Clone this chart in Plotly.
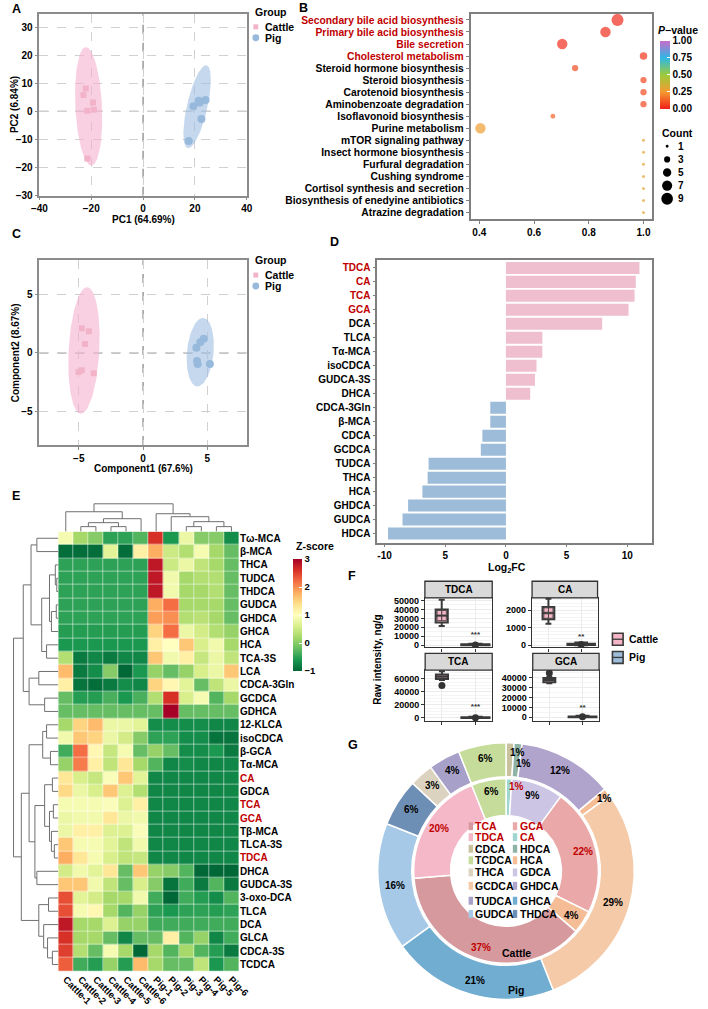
import numpy as np
import plotly.graph_objects as go

W, H = 708, 1009
FONT = "Liberation Sans, Arial, sans-serif"
LRED = "#c00000"

# ----------------------------------------------------------------- data
# A  PCA scores
pca_cattle_pc1 = [-23.0, -22.1, -19.3, -21.5, -19.0, -21.5]
pca_cattle_pc2 = [5.9, 8.2, 3.2, 0.2, 0.6, -16.9]
pca_pig_pc1 = [19.4, 21.4, 21.9, 24.1, 22.5, 17.6]
pca_pig_pc2 = [1.8, 3.8, 3.2, 4.1, -2.7, -10.6]
# confidence ellipses: centre x, centre y, semi-axis 1 (dx, dy), semi-axis 2 (dx, dy)
pca_ellipse_cattle = [-21.0, 1.8, -1.1, 21.2, 5.13, 0.24]
pca_ellipse_pig = [20.85, 1.65, 3.65, 14.85, 3.84, -0.84]

# B  KEGG enrichment
pathways = ["Secondary bile acid biosynthesis", "Primary bile acid biosynthesis", "Bile secretion",
            "Cholesterol metabolism", "Steroid hormone biosynthesis", "Steroid biosynthesis",
            "Carotenoid biosynthesis", "Aminobenzoate degradation", "Isoflavonoid biosynthesis",
            "Purine metabolism", "mTOR signaling pathway", "Insect hormone biosynthesis",
            "Furfural degradation", "Cushing syndrome", "Cortisol synthesis and secretion",
            "Biosynthesis of enedyine antibiotics", "Atrazine degradation"]
pathway_ratio = [0.905, 0.861, 0.703, 1.0, 0.75, 1.0, 1.0, 1.0, 0.669, 0.404, 1.0, 1.0, 1.0, 1.0, 1.0, 1.0, 1.0]
pathway_count = [9, 7, 7, 4, 3, 3, 3, 3, 2, 7, 1, 1, 1, 1, 1, 1, 1]
pathway_p = [0.02, 0.03, 0.03, 0.05, 0.09, 0.08, 0.08, 0.08, 0.14, 0.27, 0.30, 0.30, 0.30, 0.30, 0.30, 0.30, 0.30]
pathway_red = [True, True, True, True] + [False] * 13
count_legend = [1, 3, 5, 7, 9]

# C  PLS-DA scores
pls_cattle_c1 = [-4.77, -4.22, -4.52, -4.77, -5.02, -3.84]
pls_cattle_c2 = [2.1, 1.83, 0.76, -1.5, -1.64, -1.75]
pls_pig_c1 = [4.15, 4.45, 4.72, 4.2, 4.25, 5.2]
pls_pig_c2 = [0.42, 0.9, 1.19, -0.7, -0.95, -0.95]
pls_ellipse_cattle = [-4.6, 0.2, 0.26, 5.4, 1.19, -0.07]
pls_ellipse_pig = [4.45, 0.05, 0.25, 2.92, 1.03, -0.11]

# D  log2 fold change
fc_acids = ["TDCA", "CA", "TCA", "GCA", "DCA", "TLCA", "Tα-MCA", "isoCDCA", "GUDCA-3S", "DHCA",
            "CDCA-3Gln", "β-MCA", "CDCA", "GCDCA", "TUDCA", "THCA", "HCA", "GHDCA", "GUDCA", "HDCA"]
fc_values = [11.0, 10.7, 10.6, 10.1, 7.93, 3.0, 3.0, 2.52, 2.39, 2.0,
             -1.29, -1.29, -1.94, -2.07, -6.37, -6.45, -6.88, -8.06, -8.52, -9.71]
fc_red = {"TDCA", "CA", "TCA", "GCA"}

# E  heatmap (z-score)
hm_samples = ["Cattle-1", "Cattle-2", "Cattle-3", "Cattle-4", "Cattle-5", "Cattle-6",
              "Pig-1", "Pig-2", "Pig-3", "Pig-4", "Pig-5", "Pig-6"]
hm_acids = ["Tω-MCA", "β-MCA", "THCA", "TUDCA", "THDCA", "GUDCA", "GHDCA", "GHCA", "HCA", "TCA-3S",
            "LCA", "CDCA-3Gln", "GCDCA", "GDHCA", "12-KLCA", "isoCDCA", "β-GCA", "Tα-MCA", "CA", "GDCA",
            "TCA", "GCA", "Tβ-MCA", "TLCA-3S", "TDCA", "DHCA", "GUDCA-3S", "3-oxo-DCA", "TLCA", "DCA",
            "GLCA", "CDCA-3S", "TCDCA"]
hm_red = {"CA", "TCA", "GCA", "TDCA"}
hm_z = [
    [0.9, 0.2, 0.0, -0.5, -0.5, -0.3, 2.6, -0.6, 0.8, 0.0, 0.0, -0.7],
    [-0.95, -0.95, -0.95, 0.7, -0.95, 1.2, 1.8, 0.5, 0.3, 0.9, 0.2, -0.2],
    [-0.5, -0.5, -0.5, -0.5, -0.5, -0.5, 2.8, 0.5, 0.8, 0.4, 0.2, -0.2],
    [-0.5, -0.5, -0.5, -0.5, -0.5, -0.5, 2.8, 0.85, 0.2, 0.3, 0.3, -0.2],
    [-0.5, -0.5, -0.5, -0.5, -0.5, -0.5, 2.8, 0.85, 0.2, 0.2, 0.3, -0.2],
    [-0.5, -0.5, -0.5, -0.5, -0.5, -0.5, 1.8, 2.2, 0.2, 0.2, 0.2, -0.2],
    [-0.5, -0.5, -0.5, -0.5, -0.5, -0.5, 1.9, 2.0, 0.3, 0.35, 0.2, -0.2],
    [-0.55, -0.55, -0.55, -0.55, -0.55, -0.55, 1.5, 2.2, 0.8, 0.55, 0.3, 0.1],
    [-0.6, -0.6, -0.6, -0.6, -0.6, -0.6, 1.2, 1.0, 1.6, 0.6, 0.85, 0.2],
    [0.3, -0.85, -0.75, -0.85, -0.75, -0.75, 1.6, 0.85, 1.2, 0.45, 0.8, 0.4],
    [1.7, -0.85, -0.7, 0.0, -1.0, -0.6, 0.1, -0.2, 0.1, 0.6, 0.8, 1.6],
    [1.2, -0.9, -0.95, -0.85, -0.7, -0.75, 1.5, 1.1, 0.7, -0.2, 0.4, 0.8],
    [-0.2, -0.55, -0.55, -0.35, -0.6, -0.35, 0.3, 2.6, 0.6, 0.9, -0.3, 0.2],
    [-0.2, -0.2, -0.2, -0.2, -0.2, -0.2, -0.2, 3.0, -0.2, -0.2, -0.2, -0.2],
    [0.2, 1.5, 1.7, 0.8, 0.8, 0.7, -0.7, -0.7, -0.7, -0.7, -0.75, -0.75],
    [0.85, 1.6, 1.5, 0.8, 0.55, 0.0, -0.5, -0.5, -0.7, -0.7, -0.9, -0.9],
    [-0.4, 2.2, 1.1, 0.45, 0.9, -0.2, 0.1, -0.2, -0.7, -0.7, -0.6, -0.85],
    [0.1, 2.1, 1.2, 0.4, 1.3, 0.2, -0.3, -0.75, -0.7, -0.75, -0.75, -0.75],
    [1.3, 0.6, 0.45, 0.95, 1.6, 0.7, -0.75, -0.75, -0.75, -0.75, -0.75, -0.75],
    [1.45, 0.8, 0.6, 1.6, 0.65, 0.3, -0.75, -0.75, -0.75, -0.75, -0.75, -0.75],
    [0.9, 0.9, 0.9, 0.95, 0.65, 1.2, -0.75, -0.75, -0.75, -0.75, -0.75, -0.75],
    [0.8, 0.85, 0.85, 1.3, 0.8, 0.85, -0.75, -0.75, -0.75, -0.75, -0.75, -0.75],
    [0.8, 1.2, 1.2, 0.65, 0.65, 0.95, -0.75, -0.75, -0.75, -0.75, -0.75, -0.75],
    [1.6, 0.9, 0.9, 0.7, 0.4, 0.85, -0.75, -0.75, -0.75, -0.75, -0.75, -0.75],
    [1.8, 1.3, 0.9, 0.6, 0.4, 0.45, -0.75, -0.75, -0.75, -0.75, -0.75, -0.75],
    [0.55, 0.85, 0.7, 1.3, -0.2, 1.6, 0.1, 0.0, -0.3, -1.0, -1.0, -1.0],
    [1.6, 1.6, 0.85, 0.4, -0.2, 0.6, 0.0, -0.9, -0.4, -0.85, -0.3, -0.85],
    [2.4, 0.7, 0.55, 0.2, 0.2, 0.85, -0.4, -1.0, -0.4, -0.55, -0.7, -0.3],
    [2.4, 0.9, 1.1, 0.2, -0.3, 0.1, -0.5, -0.6, -0.5, -0.5, -0.55, -0.5],
    [2.8, 0.2, 0.2, 0.65, 0.1, 0.1, -0.4, -0.4, -0.4, -0.4, -0.4, -0.4],
    [2.6, 0.2, 0.2, -0.2, -0.75, -0.2, -0.2, 1.2, -0.3, 0.1, -0.75, -0.4],
    [2.5, 0.3, -0.2, 0.9, 0.2, -1.0, 0.2, -0.3, 0.2, -0.3, -0.55, -0.85],
    [2.3, -0.4, -0.55, 0.1, -0.55, 1.7, 0.2, -0.2, -0.2, 0.4, -0.6, -0.3],
]
# dendrograms as nested [merge height, left, right]; leaves are row/column indices
hm_row_tree = [46,
               [36,
                [28, [22, 0, 1], [17, [9, [3, 2, [1.5, 3, 4]], [7, [2, 5, 6], 7]], [12, 8, 9]]],
                [30, [20, 10, 11], [14, 12, 13]]],
               [38,
                [30, [16, [12, 14, 15], [8, 16, 17]],
                 [24, [14, [6, 18, 19], [9, [5, 20, 21], [7, 22, [4, 23, 24]]]], [22, 25, 26]]],
                [20, [10, 27, 28], [15, 29, [11, 30, [6, 31, 32]]]]]]
hm_col_tree = [28, [20, 0, [13, [9, [5, 1, 2], [5, 3, 4]], 5]],
               [18, 6, [15, 7, [10, [5, 8, 9], [5, 10, 11]]]]]

# F  raw intensity box plots
f_acids = ["TDCA", "CA", "TCA", "GCA"]
f_cattle_q1 = [25500, 1470, 60000, 35500]
f_cattle_med = [32700, 1830, 63500, 38000]
f_cattle_q3 = [40000, 2170, 66700, 40000]
f_cattle_lo = [21500, 1225, 58500, 34500]
f_cattle_hi = [51000, 2650, 71800, 41000]
f_pig_q1 = [0, 10, 0, 100]
f_pig_med = [300, 40, 300, 500]
f_pig_q3 = [900, 80, 1000, 900]
f_pig_lo = [0, 0, 0, 0]
f_pig_hi = [1500, 150, 2000, 1500]
f_cattle_points = [[36300, 36300, 30000, 30000], [2000, 2000, 1660, 1660], [], []]
f_cattle_outliers = [[], [], [49900], [45000]]
f_sig = ["***", "**", "***", "**"]
f_sig_y = [11700, 490, 16800, 9300]
f_yticks = [[0, 10000, 20000, 30000, 40000, 50000], [0, 1000, 2000],
            [0, 20000, 40000, 60000], [0, 10000, 20000, 30000, 40000]]
f_yrange = [[-2600, 53000], [-130, 2695], [-4600, 73700], [-3700, 48000]]

# G  composition donuts (percent)
cattle_acids = ["CA", "GDCA", "GCA", "HCA", "TCA", "TDCA", "TCDCA"]
cattle_pct = [1, 9, 22, 4, 37, 20, 6]
pig_acids = ["CDCA", "HDCA", "GHDCA", "HCA", "GCDCA", "GHCA", "GUDCA", "THDCA", "THCA", "TUDCA", "TCDCA"]
pig_pct = [1, 1, 12, 1, 29, 21, 16, 6, 3, 4, 6]
g_legend_col1 = ["TCA", "TDCA", "CDCA", "TCDCA", "THCA", "GCDCA", "TUDCA", "GUDCA"]
g_legend_col2 = ["GCA", "CA", "HDCA", "HCA", "GDCA", "GHDCA", "GHCA", "THDCA"]
g_red = {"TCA", "TDCA", "GCA", "CA"}
acid_colors = {"TCA": "#d69a9e", "GCA": "#eaa9a8", "TDCA": "#f5b8c9", "CA": "#9fd6cf",
               "CDCA": "#c9c29e", "HDCA": "#8fb3a7", "TCDCA": "#c6dc9b", "HCA": "#f4bd96",
               "THCA": "#dbd2c0", "GDCA": "#cdc5e4", "GCDCA": "#f4caa8", "GHDCA": "#b0a4cc",
               "TUDCA": "#a7a1c9", "GHCA": "#71add0", "GUDCA": "#a5c9e6", "THDCA": "#6e8fb5"}

# ----------------------------------------------------------------- helpers
def fx(p): return p / W
def fy(p): return 1 - p / H
def xdom(a, b): return [a / W, b / W]
def ydom(t, b): return [1 - b / H, 1 - t / H]
def tf(size=10, color="black"): return dict(family=FONT, size=size, color=color, weight="bold")
def red(s): return f"<span style='color:{LRED}'>{s}</span>"

def note(x, y, text, size=10, xanchor="center", angle=0, color="black"):
    return dict(x=fx(x), y=fy(y), xref="paper", yref="paper", text=text, showarrow=False,
                xanchor=xanchor, yanchor="middle", textangle=angle, font=tf(size, color))

def ellipse(p, n=120):
    cx, cy, ax, ay, bx, by = p
    t = np.linspace(0, 2 * np.pi, n)
    return cx + ax * np.cos(t) + bx * np.sin(t), cy + ay * np.cos(t) + by * np.sin(t)

def dendro(node, xs, ys):
    if isinstance(node, int):
        return float(node), 0.0
    h, l, r = node
    pl, hl = dendro(l, xs, ys)
    pr, hr = dendro(r, xs, ys)
    xs += [pl, pl, pr, pr, None]
    ys += [hl, h, h, hr, None]
    return (pl + pr) / 2, h

fig = go.Figure()
ann, shapes = [], []
lay = {}

def axes(n, xcfg, ycfg):
    xs = "" if n == 1 else str(n)
    lay["xaxis" + xs] = dict(xcfg, anchor="y" + xs)
    lay["yaxis" + xs] = dict(ycfg, anchor="x" + xs)

PINK_PT, PINK_EL = "#f2b3c9", "rgba(245,176,205,0.6)"
BLUE_PT, BLUE_EL = "#97b9dc", "rgba(160,190,225,0.6)"

def scatter_axes(n, xd, yd, xr, yr, xt, yt):
    base = dict(showline=True, mirror=True, linecolor="#8c8c8c", linewidth=1.5, ticks="outside",
                tickcolor="#8c8c8c", ticklen=3, showgrid=True, gridcolor="#d0d0d0", griddash="dash",
                zeroline=False, tickfont=tf(10))
    axes(n, dict(base, domain=xd, range=xr, tickvals=xt), dict(base, domain=yd, range=yr, tickvals=yt))

# ----------------------------------------------------------------- A
for el, col in [(pca_ellipse_cattle, PINK_EL), (pca_ellipse_pig, BLUE_EL)]:
    ex, ey = ellipse(el)
    fig.add_trace(go.Scatter(x=ex, y=ey, mode="lines", fill="toself", fillcolor=col,
                             line=dict(width=0), xaxis="x", yaxis="y"))
fig.add_trace(go.Scatter(x=pca_cattle_pc1, y=pca_cattle_pc2, mode="markers", xaxis="x", yaxis="y",
                         marker=dict(symbol="square", size=6, color=PINK_PT)))
fig.add_trace(go.Scatter(x=pca_pig_pc1, y=pca_pig_pc2, mode="markers", xaxis="x", yaxis="y",
                         marker=dict(symbol="circle", size=8, color=BLUE_PT)))
scatter_axes(1, xdom(32.3, 245.7), ydom(12, 195), [-40, 40], [-30.2, 34.9],
             [-40, -20, 0, 20, 40], [-30, -20, -10, 0, 10, 20, 30])

# ----------------------------------------------------------------- C
for el, col in [(pls_ellipse_cattle, PINK_EL), (pls_ellipse_pig, BLUE_EL)]:
    ex, ey = ellipse(el)
    fig.add_trace(go.Scatter(x=ex, y=ey, mode="lines", fill="toself", fillcolor=col,
                             line=dict(width=0), xaxis="x3", yaxis="y3"))
fig.add_trace(go.Scatter(x=pls_cattle_c1, y=pls_cattle_c2, mode="markers", xaxis="x3", yaxis="y3",
                         marker=dict(symbol="square", size=6, color=PINK_PT)))
fig.add_trace(go.Scatter(x=pls_pig_c1, y=pls_pig_c2, mode="markers", xaxis="x3", yaxis="y3",
                         marker=dict(symbol="circle", size=8, color=BLUE_PT)))
scatter_axes(3, xdom(32.3, 245.7), ydom(260, 446), [-8.07, 8.07], [-7.86, 7.9], [-5, 0, 5], [-5, 0, 5])

for xa, ya in [("x", "y"), ("x3", "y3")]:
    shapes.append(dict(type="line", xref=xa, yref=ya + " domain", x0=0, x1=0, y0=0, y1=1,
                       line=dict(color="#8a8a8a", width=1.3, dash="dash"), layer="below"))
    shapes.append(dict(type="line", xref=xa + " domain", yref=ya, x0=0, x1=1, y0=0, y1=0,
                       line=dict(color="#8a8a8a", width=1.3, dash="dash"), layer="below"))

# group legends for A and C
for gy in [10, 260]:
    ann.append(note(252, gy, "Group", 10.5, "left"))
    ann.append(note(262, gy + 15, "Cattle", 10.5, "left"))
    ann.append(note(262, gy + 26, "Pig", 10.5, "left"))
    shapes.append(dict(type="rect", xref="paper", yref="paper", x0=fx(252.5), x1=fx(257.5),
                       y0=fy(gy + 17.5), y1=fy(gy + 12.5), fillcolor=PINK_PT, line=dict(width=0)))
    shapes.append(dict(type="circle", xref="paper", yref="paper", x0=fx(251.5), x1=fx(258.5),
                       y0=fy(gy + 29.5), y1=fy(gy + 22.5), fillcolor=BLUE_PT, line=dict(width=0)))

ann.append(note(139, 219, "PC1 (64.69%)"))
ann.append(note(6, 103, "PC2 (6.84%)", angle=-90))
ann.append(note(139, 470, "Component1 (67.6%)"))
ann.append(note(8, 353, "Component2 (8.67%)", angle=-90))

# ----------------------------------------------------------------- B
def count_size(c):
    return 3 + 4.5 * (np.sqrt(c) - 1)

pscale = [[0, "#f0201a"], [0.25, "#f59a30"], [0.5, "#9ccb3c"], [0.75, "#2fb7e3"], [1, "#c86ccc"]]
fig.add_trace(go.Scatter(
    x=pathway_ratio, y=list(range(len(pathways))), mode="markers", xaxis="x2", yaxis="y2",
    marker=dict(size=[count_size(c) for c in pathway_count], color=pathway_p, colorscale=pscale,
                cmin=0, cmax=1, line=dict(width=0), showscale=True,
                colorbar=dict(x=fx(670.5), xanchor="left", y=fy(39), yanchor="top", len=68,
                              lenmode="pixels", thickness=10, thicknessmode="pixels",
                              tickvals=[0, 0.25, 0.5, 0.75, 1],
                              ticktext=["0.00", "0.25", "0.50", "0.75", "1.00"],
                              ticks="inside", ticklen=3, tickcolor="white", outlinewidth=0,
                              xpad=0, ypad=0, tickfont=tf(10)))))
axes(2,
     dict(domain=xdom(476, 663), range=[0.368, 1.032], tickvals=[0.4, 0.6, 0.8, 1.0],
          ticktext=["0.4", "0.6", "0.8", "1.0"], showline=True, mirror=True,
          linecolor="#7f7f7f", linewidth=1.5, ticks="outside", ticklen=3,
          tickcolor="#7f7f7f", showgrid=False, zeroline=False, tickfont=tf(10)),
     dict(domain=ydom(12, 219), range=[16.58, -0.5], tickvals=list(range(len(pathways))),
          ticktext=[red(p) if r else p for p, r in zip(pathways, pathway_red)],
          showline=True, mirror=True, linecolor="#7f7f7f", linewidth=1.5, ticks="outside",
          ticklen=3, tickcolor="#7f7f7f", showgrid=False, zeroline=False, tickfont=tf(10.3)))
ann.append(note(667, 28, "<i>P</i>\u2212value", 10.5, "left"))
ann.append(note(671, 132, "Count", 10.5, "left"))
for i, c in enumerate(count_legend):
    cy = 145.3 + i * 13.2
    r = count_size(c) / 2
    shapes.append(dict(type="circle", xref="paper", yref="paper", x0=fx(678.3 - r), x1=fx(678.3 + r),
                       y0=fy(cy + r), y1=fy(cy - r), fillcolor="black", line=dict(width=0)))
    ann.append(note(687, cy, str(c), 10, "left"))

# ----------------------------------------------------------------- D
fig.add_trace(go.Bar(x=fc_values, y=list(range(len(fc_acids))), orientation="h", xaxis="x4", yaxis="y4",
                     width=0.86, marker=dict(color=["#efbfd0" if v > 0 else "#9dbcd9" for v in fc_values],
                                             line=dict(width=0))))
axes(4,
     dict(domain=xdom(380, 662.3), range=[-10.6, 12.0], tickvals=[-10, -5, 0, 5, 10],
          ticktext=["-10", "5", "0", "5", "10"], showline=True, mirror=True, linecolor="#7f7f7f",
          linewidth=1.5, ticks="outside", ticklen=3, tickcolor="#7f7f7f", showgrid=False,
          zeroline=False, tickfont=tf(10)),
     dict(domain=ydom(259.3, 544.3), range=[19.64, -0.6], tickvals=list(range(len(fc_acids))),
          ticktext=[red(a) if a in fc_red else a for a in fc_acids], showline=True, mirror=True,
          linecolor="#7f7f7f", linewidth=1.5, ticks="outside", ticklen=3, tickcolor="#7f7f7f",
          showgrid=False, zeroline=False, tickfont=tf(10)))
ann.append(note(513, 570, "Log<sub>2</sub>FC", 10.5))

# ----------------------------------------------------------------- E
fig.add_trace(go.Heatmap(z=hm_z, x=list(range(len(hm_samples))), y=list(range(len(hm_acids))),
                         xaxis="x5", yaxis="y5", colorscale="RdYlGn", reversescale=True, zmin=-1, zmax=3,
                         xgap=0.5, ygap=0.5,
                         colorbar=dict(x=fx(293.3), xanchor="left", y=fy(561), yanchor="top", len=112,
                                       lenmode="pixels", thickness=8.5, thicknessmode="pixels",
                                       tickvals=[-1, 0, 1, 2, 3], ticks="inside", ticklen=3,
                                       tickcolor="white", outlinewidth=0, xpad=0, ypad=0,
                                       tickfont=tf(9.5))))
axes(5,
     dict(domain=xdom(51.7, 237.7), range=[-0.5, 11.5], tickvals=list(range(12)),
          ticktext=hm_samples, tickangle=45, showgrid=False, zeroline=False, ticks="",
          showline=False, tickfont=tf(9.5)),
     dict(domain=ydom(533.3, 976), range=[32.5, -0.5], tickvals=list(range(len(hm_acids))),
          ticktext=[red(a) if a in hm_red else a for a in hm_acids], side="right",
          showgrid=False, zeroline=False, ticks="", showline=False, tickfont=tf(10)))
ann.append(note(294, 548, "Z-score", 10.5, "left"))

cx_, cy_ = [], []
dendro(hm_col_tree, cx_, cy_)
fig.add_trace(go.Scatter(x=cx_, y=cy_, mode="lines", line=dict(color="#707070", width=1),
                         xaxis="x6", yaxis="y6"))
axes(6, dict(domain=xdom(51.7, 237.7), range=[-0.5, 11.5], visible=False),
     dict(domain=ydom(503, 533.3), range=[0, 30.3], visible=False))
rx, ry = [], []
dendro(hm_row_tree, ry, rx)
fig.add_trace(go.Scatter(x=rx, y=ry, mode="lines", line=dict(color="#707070", width=1),
                         xaxis="x7", yaxis="y7"))
axes(7, dict(domain=xdom(3, 51.7), range=[48.7, 0], visible=False),
     dict(domain=ydom(533.3, 976), range=[32.5, -0.5], visible=False))

# ----------------------------------------------------------------- F
f_xd = [(429, 498.3), (539.3, 606.7), (429.3, 498.3), (540, 608.3)]
f_yd = [(600, 650), (600, 650), (672.7, 724), (672.7, 724)]
f_strip = [(583.3, 600), (583.3, 600), (656, 672.7), (656, 672.7)]
for i, acid in enumerate(f_acids):
    n = 8 + i
    xa, ya = f"x{n}", f"y{n}"
    fig.add_trace(go.Box(x=[1], q1=[f_cattle_q1[i]], median=[f_cattle_med[i]], q3=[f_cattle_q3[i]],
                         lowerfence=[f_cattle_lo[i]], upperfence=[f_cattle_hi[i]], width=0.36,
                         fillcolor="#f4b6c6", line=dict(color="#3a3a3a", width=2), boxpoints=False,
                         xaxis=xa, yaxis=ya))
    fig.add_trace(go.Box(x=[2], q1=[f_pig_q1[i]], median=[f_pig_med[i]], q3=[f_pig_q3[i]],
                         lowerfence=[f_pig_lo[i]], upperfence=[f_pig_hi[i]], width=0.84,
                         fillcolor="#9dbcd9", line=dict(color="#3a3a3a", width=2), boxpoints=False,
                         xaxis=xa, yaxis=ya))
    pts = f_cattle_points[i]
    if pts:
        offs = [-0.07, 0.07] * (len(pts) // 2)
        fig.add_trace(go.Scatter(x=[1 + o for o in offs], y=pts, mode="markers", xaxis=xa, yaxis=ya,
                                 marker=dict(symbol="square", size=4.5, color="#f4b6c6",
                                             line=dict(color="#3a3a3a", width=0.8))))
    if f_cattle_outliers[i]:
        fig.add_trace(go.Scatter(x=[1] * len(f_cattle_outliers[i]), y=f_cattle_outliers[i], mode="markers",
                                 xaxis=xa, yaxis=ya, marker=dict(size=7, color="#333333")))
    fig.add_trace(go.Scatter(x=[2], y=[f_pig_med[i]], mode="markers", xaxis=xa, yaxis=ya,
                             marker=dict(size=7, color="#333333")))
    fig.add_trace(go.Scatter(x=[2], y=[f_sig_y[i]], mode="text", text=[f_sig[i]], xaxis=xa, yaxis=ya,
                             textfont=dict(family=FONT, size=8, color="#333333")))
    axes(n,
         dict(domain=xdom(*f_xd[i]), range=[0.5, 2.5], tickvals=[1, 2], showticklabels=False,
              ticks="outside", ticklen=3, tickcolor="#333", showgrid=True, gridcolor="#ebebeb",
              zeroline=False, showline=True, mirror=True, linecolor="#333", linewidth=1.3),
         dict(domain=ydom(*f_yd[i]), range=f_yrange[i], tickvals=f_yticks[i], tickformat="d",
              ticks="outside", ticklen=3, tickcolor="#333", showgrid=True, gridcolor="#ebebeb",
              minor=dict(showgrid=True, gridcolor="#f5f5f5"),
              zeroline=False, showline=True, mirror=True, linecolor="#333", linewidth=1.3,
              tickfont=tf(9)))
    shapes.append(dict(type="rect", xref="paper", yref="paper", x0=fx(f_xd[i][0]), x1=fx(f_xd[i][1]),
                       y0=fy(f_strip[i][1]), y1=fy(f_strip[i][0]), fillcolor="#d9d9d9",
                       line=dict(color="#333", width=1.3)))
    ann.append(note((f_xd[i][0] + f_xd[i][1]) / 2, (f_strip[i][0] + f_strip[i][1]) / 2, acid, 10))
ann.append(note(380, 662, "Raw intensity, ng/g", 10, angle=-90))
for k, (lab, col) in enumerate([("Cattle", "#f4b6c6"), ("Pig", "#9dbcd9")]):
    cy = 641.7 + k * 18.3
    shapes.append(dict(type="rect", xref="paper", yref="paper", x0=fx(622), x1=fx(633),
                       y0=fy(cy + 6), y1=fy(cy - 6), fillcolor=col, line=dict(color="#3a3a3a", width=1.6)))
    shapes.append(dict(type="line", xref="paper", yref="paper", x0=fx(622), x1=fx(633),
                       y0=fy(cy), y1=fy(cy), line=dict(color="#3a3a3a", width=1.3)))
    ann.append(note(637.5, cy, lab, 10.5, "left"))

# ----------------------------------------------------------------- G
gcx, gcy = 512.5, 875
RO, RI = 132, 95
fig.add_trace(go.Pie(labels=pig_acids, values=pig_pct, sort=False, direction="clockwise", rotation=0,
                     hole=97 / RO, domain=dict(x=xdom(gcx - RO, gcx + RO), y=ydom(gcy - RO, gcy + RO)),
                     marker=dict(colors=[acid_colors[a] for a in pig_acids], line=dict(color="white", width=1.5)),
                     textinfo="none"))
fig.add_trace(go.Pie(labels=cattle_acids, values=cattle_pct, sort=False, direction="clockwise", rotation=0,
                     hole=57 / RI, domain=dict(x=xdom(gcx - RI, gcx + RI), y=ydom(gcy - RI, gcy + RI)),
                     marker=dict(colors=[acid_colors[a] for a in cattle_acids], line=dict(color="white", width=1.5)),
                     textinfo="none"))

def ring_labels(acids, pct, radius, red_set):
    total, cum, small_k = float(sum(pct)), 0.0, 0
    for a, p in zip(acids, pct):
        th = np.deg2rad((cum + p / 2) / total * 360)
        cum += p
        r = radius
        anchor = "center"
        if p / total < 0.02:                      # thin slices: stagger the label outwards/inwards
            r = radius + (4 if small_k % 2 == 0 else -6)
            anchor = "left"
            small_k += 1
        x = gcx + r * np.sin(th) - (2 if anchor == "left" else 0)
        y = gcy - r * np.cos(th)
        ann.append(note(x, y, f"{p}%", 10, anchor, color=LRED if a in red_set else "black"))

ring_labels(pig_acids, pig_pct, 115, set())
ring_labels(cattle_acids, cattle_pct, 81, g_red)
ann.append(note(523, 958, "Cattle", 10.5))
ann.append(note(523, 995, "Pig", 10.5))
g_rows = [830, 841, 852.7, 864.3, 876.5, 890, 905, 918.3]
for col_labels, sx in [(g_legend_col1, 474), (g_legend_col2, 519.5)]:
    for lab, yy in zip(col_labels, g_rows):
        shapes.append(dict(type="rect", xref="paper", yref="paper", x0=fx(sx), x1=fx(sx + 4.5),
                           y0=fy(yy + 4), y1=fy(yy - 4), fillcolor=acid_colors[lab], line=dict(width=0)))
        ann.append(note(sx + 5, yy, red(lab) if lab in g_red else lab, 10.5, "left"))

# ----------------------------------------------------------------- panel letters
for letter, x, y in [("A", 2, 7), ("B", 297, 6), ("C", 2, 234), ("D", 329, 242), ("E", 2, 497),
                     ("F", 348, 578), ("G", 348, 748)]:
    ann.append(note(x, y, letter, 12.5, "left"))

fig.update_layout(width=W, height=H, margin=dict(l=0, r=0, t=0, b=0), autosize=False,
                  paper_bgcolor="white", plot_bgcolor="white", showlegend=False, hovermode=False,
                  font=dict(family=FONT, size=10, color="black", weight="bold"),
                  annotations=ann, shapes=shapes, **lay)
fig.write_html("out.html")
